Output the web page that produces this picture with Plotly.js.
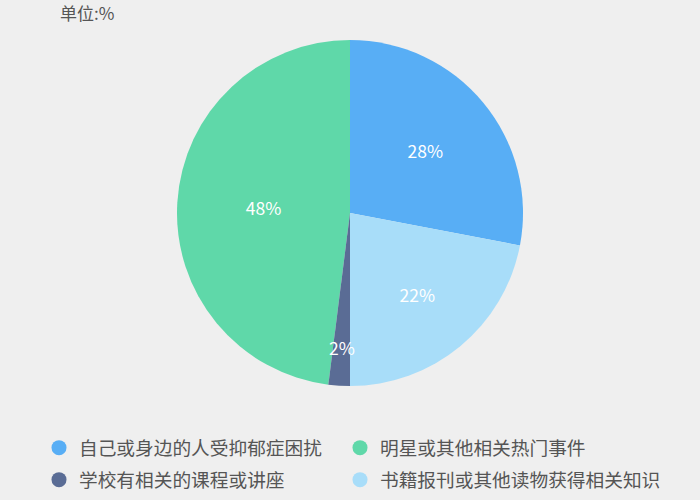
<!DOCTYPE html>
<html>
<head>
<meta charset="utf-8">
<script src="https://cdn.plot.ly/plotly-3.0.1.min.js"></script>
<style>html,body{margin:0;padding:0;background:#efefef;}</style>
</head>
<body>
<div id="chart" style="width:700px;height:500px;"></div>
<script>
var categories = ['自己或身边的人受抑郁症困扰', '明星或其他相关热门事件', '学校有相关的课程或讲座', '书籍报刊或其他读物获得相关知识'];
var values = [28, 48, 2, 22];
var colors = ['#58aef5', '#5fd8a9', '#5a6c95', '#a8ddf9'];
var unitLabel = '单位:%';

var FONT = '"Noto Sans CJK SC", "Noto Sans", sans-serif';
var W = 700, H = 500;
var CX = 350, CY = 213, R = 173;   // pie centre / radius in pixels
var SMALL = 5;                      // slices below this get a free-floating label

var total = values.reduce(function (a, b) { return a + b; }, 0);

var traces = [{
  type: 'pie',
  values: values,
  labels: categories,
  sort: false,
  direction: 'counterclockwise',
  rotation: 0,
  marker: {colors: colors, line: {width: 0}},
  texttemplate: values.map(function (v) { return v < SMALL ? '' : '%{value}%'; }),
  textposition: 'inside',
  insidetextorientation: 'horizontal',
  textfont: {color: '#ffffff', size: 17.5, family: FONT},
  hoverinfo: 'label+percent',
  showlegend: false,
  domain: {x: [(CX - R) / W, (CX + R) / W], y: [1 - (CY + R) / H, 1 - (CY - R) / H]}
}];

// labels for very thin slices, placed at the slice's mid-angle
var annotations = [];
var cumBefore = 0;
values.forEach(function (v, i) {
  if (v < SMALL) {
    var a = (values[0] - cumBefore - v / 2) / total * 2 * Math.PI;
    var r = 0.78 * R;
    annotations.push({
      xref: 'paper', yref: 'paper',
      x: (CX + r * Math.sin(a)) / W,
      y: 1 - (CY - r * Math.cos(a)) / H,
      xanchor: 'center', yanchor: 'middle',
      text: v + '%', showarrow: false,
      font: {color: '#ffffff', size: 17.5, family: FONT}
    });
  }
  cumBefore += v;
});

// one legend per entry, laid out in a 2 x 2 grid
var legendNames = ['legend', 'legend2', 'legend3', 'legend4'];
var colX = [39, 340];
var rowY = [448, 480];

categories.forEach(function (c, i) {
  traces.push({
    type: 'scatter', mode: 'markers', x: [null], y: [null],
    name: c,
    marker: {color: colors[i], size: 15, symbol: 'circle'},
    legend: legendNames[i],
    showlegend: true, hoverinfo: 'skip'
  });
});

var layout = {
  width: W, height: H,
  margin: {l: 0, r: 0, t: 0, b: 0},
  paper_bgcolor: '#efefef',
  plot_bgcolor: 'rgba(0,0,0,0)',
  title: {
    text: unitLabel,
    x: 60 / W, xanchor: 'left', xref: 'paper',
    y: 1 - 14 / H, yanchor: 'middle', yref: 'paper',
    font: {family: FONT, size: 17, color: '#555555'}
  },
  xaxis: {visible: false},
  yaxis: {visible: false},
  annotations: annotations,
  showlegend: true
};

legendNames.forEach(function (name, i) {
  layout[name] = {
    orientation: 'h',
    font: {family: FONT, size: 18.7, color: '#555555'},
    bgcolor: 'rgba(0,0,0,0)',
    xanchor: 'left',
    yanchor: 'middle',
    x: colX[i % 2] / W,
    y: 1 - rowY[Math.floor(i / 2)] / H,
    itemclick: false
  };
});

Plotly.newPlot('chart', traces, layout, {displayModeBar: false, staticPlot: true});
</script>
</body>
</html>
